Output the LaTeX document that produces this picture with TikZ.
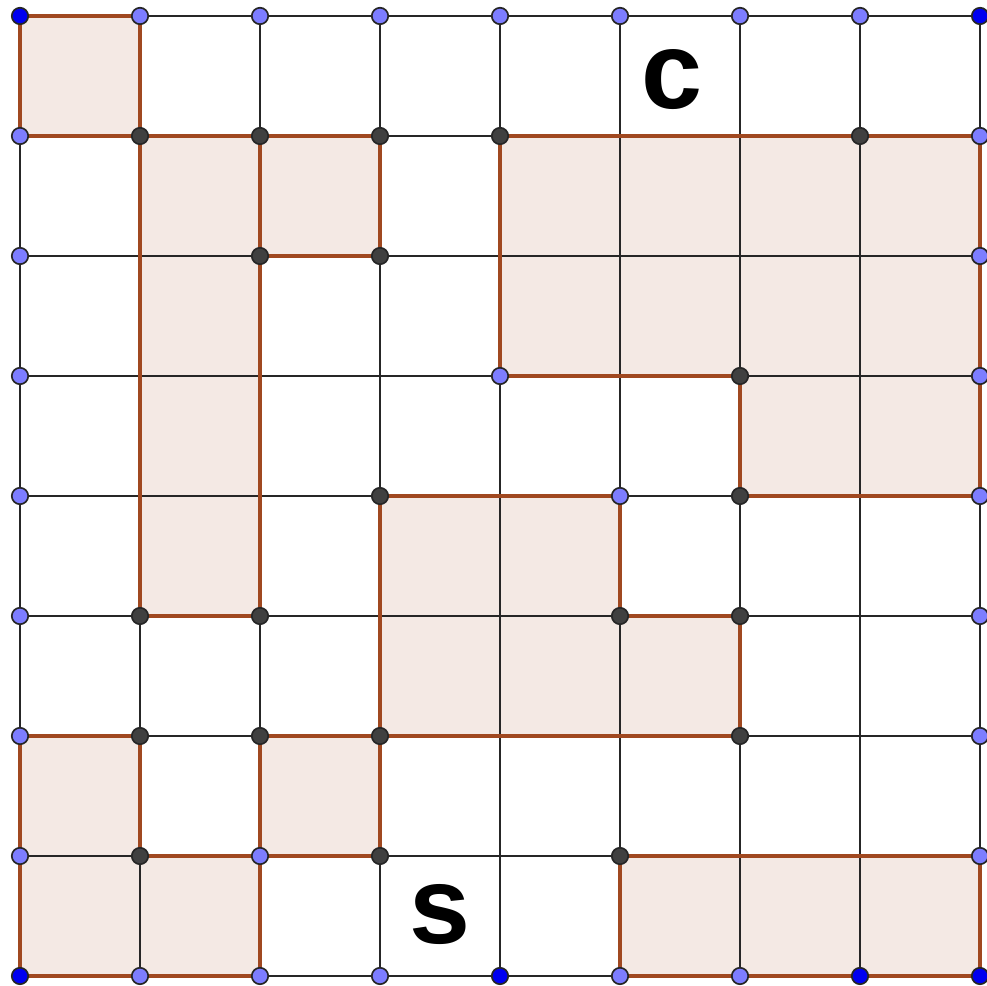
\documentclass[tikz,border=0pt]{standalone}
\usepackage{fontspec}
\newfontfamily\lblfont{Liberation Sans}
\definecolor{regionfill}{RGB}{244,233,228}
\definecolor{regionedge}{RGB}{160,72,32}
\definecolor{ptlight}{RGB}{125,125,255}
\definecolor{ptdark}{RGB}{64,64,64}
\definecolor{ptblue}{RGB}{0,0,240}

\begin{document}
\begin{tikzpicture}[
    gridline/.style={black!85, line width=0.65pt},
    region/.style={draw=regionedge, line width=0.8pt, line join=round},
    shade/.style={fill=regionfill},
    pt/.style={circle, draw=black!85, line width=0.4pt, inner sep=0pt, minimum size=3.9pt},
    lpt/.style={pt, fill=ptlight},
    dpt/.style={pt, fill=ptdark},
    bpt/.style={pt, fill=ptblue},
    lbl/.style={font=\lblfont\bfseries\fontsize{26}{30}\selectfont, inner sep=0pt}
]
\useasboundingbox (-0.1667,-0.0833) rectangle (8.05,8.1333);

% ---------- Shaded regions ----------
\def\regions{
  (0,7) rectangle (1,8)
  (1,3) rectangle (2,7)
  (2,6) rectangle (3,7)
  (4,7) -- (8,7) -- (8,4) -- (6,4) -- (6,5) -- (4,5) -- cycle
  (3,4) -- (5,4) -- (5,3) -- (6,3) -- (6,2) -- (3,2) -- cycle
  (0,2) -- (1,2) -- (1,1) -- (2,1) -- (2,0) -- (0,0) -- cycle
  (2,1) rectangle (3,2)
  (5,0) rectangle (8,1)
}
\fill[shade] \regions;

% ---------- Grid ----------
\draw[gridline] (0,0) grid (8,8);

% ---------- Region outlines ----------
\draw[region] \regions;

% ---------- Points ----------
\foreach \x/\y in {0/8, 8/8, 0/0, 4/0, 7/0, 8/0}
  \node[bpt] (p\x\y) at (\x,\y) {};
\foreach \x/\y in {1/8, 2/8, 3/8, 4/8, 5/8, 6/8, 7/8,
                   0/7, 8/7, 0/6, 8/6, 0/5, 4/5, 8/5,
                   0/4, 5/4, 8/4, 0/3, 8/3, 0/2, 8/2,
                   0/1, 2/1, 8/1, 1/0, 2/0, 3/0, 5/0, 6/0}
  \node[lpt] (p\x\y) at (\x,\y) {};
\foreach \x/\y in {1/7, 2/7, 3/7, 4/7, 7/7, 2/6, 3/6, 6/5,
                   3/4, 6/4, 1/3, 2/3, 5/3, 6/3,
                   1/2, 2/2, 3/2, 6/2, 1/1, 3/1, 5/1}
  \node[dpt] (p\x\y) at (\x,\y) {};

% ---------- Labels ----------
\node[lbl] (lc) at (5.43,7.47) {c};
\node[lbl] (ls) at (3.5,0.51) {s};

\end{tikzpicture}
\end{document}
